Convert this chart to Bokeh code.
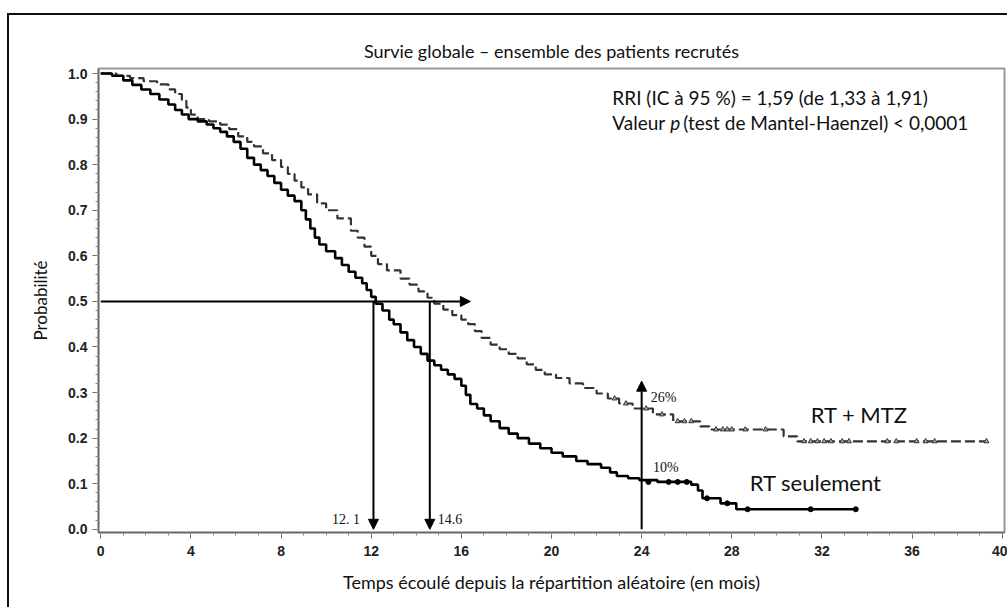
from bokeh.plotting import figure
from bokeh.models import (Label, Arrow, NormalHead, FixedTicker, PrintfTickFormatter, Range1d)
from bokeh.embed import file_html
from bokeh.resources import INLINE

# ---------------- data ----------------
title_text = "Survie globale \u2013 ensemble des patients recrut\u00e9s"
x_label = "Temps \u00e9coul\u00e9 depuis la r\u00e9partition al\u00e9atoire (en mois)"
y_label = "Probabilit\u00e9"

x_ticks = [0, 4, 8, 12, 16, 20, 24, 28, 32, 36, 40]
x_minor = list(range(0, 41))
y_ticks = [0.0, 0.1, 0.2, 0.3, 0.4, 0.5, 0.6, 0.7, 0.8, 0.9, 1.0]
y_minor = [i / 50 for i in range(0, 51)]

# RT seulement (solid black)
rt_t = [0, 0.5, 1.0, 1.4, 1.8, 2.2, 2.6, 3.0, 3.3, 3.6, 3.9, 4.3, 4.7, 5.0, 5.3,
        5.6, 5.9, 6.2, 6.5, 6.8, 7.1, 7.4, 7.7, 8.0, 8.3, 8.6, 8.9, 9.1, 9.3,
        9.5, 9.7, 10.0, 10.4, 10.7, 11.0, 11.3, 11.6, 11.8, 12.0, 12.2, 12.5,
        12.8, 13.0, 13.3, 13.6, 13.9, 14.2, 14.5, 14.8, 15.1, 15.4, 15.7, 16.0,
        16.2, 16.4, 16.7, 17.0, 17.3, 17.7, 18.1, 18.5, 19.0, 19.5, 20.0, 20.5,
        21.1, 21.6, 22.2, 22.6, 22.9, 23.4, 23.9, 24.7, 26.2, 26.5, 26.7, 27.5,
        28.2, 33.5]
rt_s = [1.0, 0.995, 0.985, 0.975, 0.965, 0.955, 0.943, 0.932, 0.92, 0.91, 0.90,
        0.895, 0.888, 0.88, 0.872, 0.862, 0.85, 0.835, 0.815, 0.80, 0.788, 0.775,
        0.76, 0.745, 0.732, 0.72, 0.70, 0.68, 0.66, 0.64, 0.625, 0.61, 0.595,
        0.58, 0.565, 0.552, 0.54, 0.525, 0.51, 0.495, 0.48, 0.46, 0.45, 0.432,
        0.415, 0.40, 0.385, 0.37, 0.36, 0.35, 0.34, 0.33, 0.315, 0.295, 0.275,
        0.265, 0.25, 0.237, 0.222, 0.21, 0.20, 0.188, 0.178, 0.168, 0.16, 0.15,
        0.143, 0.135, 0.125, 0.117, 0.112, 0.108, 0.104, 0.098, 0.085, 0.068,
        0.057, 0.044, 0.044]
rt_cens_t = [24.3, 25.2, 25.6, 26.0, 26.9, 27.8, 28.7, 31.5, 33.5]
rt_cens_s = [0.104, 0.104, 0.104, 0.104, 0.068, 0.057, 0.044, 0.044, 0.044]

# RT + MTZ (dashed grey)
mtz_t = [0, 0.7, 1.3, 1.9, 2.5, 3.0, 3.3, 3.6, 3.8, 4.0, 4.3, 4.8, 5.3, 5.7, 6.1,
         6.5, 6.8, 7.2, 7.6, 8.0, 8.3, 8.6, 8.9, 9.2, 9.6, 10.0, 10.5, 11.1,
         11.4, 11.7, 12.0, 12.3, 12.7, 13.3, 13.7, 14.1, 14.5, 14.8, 15.2, 15.6,
         16.0, 16.3, 16.6, 16.9, 17.3, 17.7, 18.1, 18.5, 18.9, 19.3, 19.7, 20.2,
         20.8, 21.4, 22.0, 22.5, 23.0, 23.6, 24.5, 25.4, 26.6, 27.0, 30.3, 30.9,
         39.3]
mtz_s = [1.0, 0.995, 0.99, 0.983, 0.976, 0.965, 0.955, 0.94, 0.925, 0.91, 0.90,
         0.895, 0.888, 0.878, 0.862, 0.85, 0.84, 0.825, 0.81, 0.795, 0.78, 0.765,
         0.75, 0.735, 0.715, 0.70, 0.682, 0.655, 0.64, 0.62, 0.60, 0.582, 0.568,
         0.55, 0.537, 0.522, 0.508, 0.495, 0.482, 0.47, 0.46, 0.45, 0.435, 0.42,
         0.405, 0.395, 0.385, 0.375, 0.362, 0.35, 0.34, 0.332, 0.32, 0.31, 0.298,
         0.287, 0.276, 0.265, 0.252, 0.237, 0.226, 0.219, 0.204, 0.193, 0.193]
mtz_cens_t = [22.8, 23.3, 24.2, 24.9, 25.6, 25.9, 26.2, 27.3, 27.6, 27.8, 28.0,
              28.6, 29.5, 31.2, 31.5, 31.8, 32.1, 32.4, 32.9, 33.2, 34.9, 35.3,
              36.2, 36.6, 37.0, 39.3]
mtz_cens_s = [0.287, 0.276, 0.265, 0.252, 0.237, 0.237, 0.237, 0.219, 0.219, 0.219,
              0.219, 0.219, 0.219, 0.193, 0.193, 0.193, 0.193, 0.193, 0.193, 0.193,
              0.193, 0.193, 0.193, 0.193, 0.193, 0.193]

median_rt = 12.1
median_mtz = 14.6
median_level = 0.5
median_arrow_end = 16.4
t24 = 24
t24_arrow_top = 0.325
median_rt_label = "12. 1"
median_mtz_label = "14.6"
pct_mtz_label = "26%"
pct_rt_label = "10%"
stat_line1 = "RRI (IC \u00e0 95 %) = 1,59 (de 1,33 \u00e0 1,91)"
stat_line2a = "Valeur "
stat_line2b = "p"
stat_line2c = "(test de Mantel-Haenzel) < 0,0001"
series_mtz = "RT + MTZ"
series_rt = "RT seulement"

SANS = "Lato"
SERIF = "Liberation Serif"

p = figure(width=1000, height=594, output_backend="svg", toolbar_location=None,
           x_range=Range1d(-0.1, 40.1), y_range=Range1d(-0.007, 1.011),
           min_border_left=89, min_border_right=5, min_border_top=53,
           min_border_bottom=77, background_fill_color="white",
           border_fill_color="white", margin=(13, 0, 0, 7))
p.styles = {"border-top": "2px solid #111", "border-left": "2px solid #111"}

p.title.text = title_text
p.title.align = "center"
p.title.text_font = SANS
p.title.text_font_size = "18px"
p.title.text_font_style = "normal"
p.title.text_color = "#111"
p.title.standoff = 13

p.grid.visible = False
p.outline_line_color = "#999"
p.outline_line_width = 2

p.xaxis.ticker = FixedTicker(ticks=x_ticks, minor_ticks=x_minor)
p.yaxis.ticker = FixedTicker(ticks=y_ticks, minor_ticks=y_minor)
p.yaxis.formatter = PrintfTickFormatter(format="%.1f")
for ax in (p.xaxis, p.yaxis):
    ax.axis_line_color = "#666"
    ax.axis_line_width = 1.5
    ax.major_tick_line_color = "#666"
    ax.minor_tick_line_color = "#888"
    ax.major_tick_out = 6
    ax.major_tick_in = 0
    ax.minor_tick_out = 3
    ax.minor_tick_in = 0
    ax.major_label_text_font = "Liberation Sans"
    ax.major_label_text_font_style = "bold"
    ax.major_label_text_font_size = "14px"
    ax.major_label_text_color = "#222"
    ax.axis_label_text_font = SANS
    ax.axis_label_text_font_style = "normal"
    ax.axis_label_text_color = "#111"
p.xaxis.axis_label = x_label
p.xaxis.axis_label_text_font_size = "18px"
p.xaxis.axis_label_standoff = 12
p.xaxis.major_label_standoff = 7
p.yaxis.axis_label = y_label
p.yaxis.axis_label_text_font_size = "17px"
p.yaxis.axis_label_standoff = 14
p.yaxis.major_label_standoff = 5

# curves
p.step(mtz_t, mtz_s, mode="after", line_color="#333", line_width=2.2, line_dash="10 4")
p.scatter(mtz_cens_t, mtz_cens_s, marker="triangle", size=5, line_color="#333",
          fill_color="#aaa", line_width=1)
p.step(rt_t, rt_s, mode="after", line_color="black", line_width=2.6)
p.scatter(rt_cens_t, rt_cens_s, marker="circle", size=5, line_color="black",
          fill_color="black")

# arrows
def arrow(x0, y0, x1, y1):
    p.add_layout(Arrow(end=NormalHead(size=10, fill_color="black", line_color="black"),
                       x_start=x0, y_start=y0, x_end=x1, y_end=y1,
                       line_color="black", line_width=2))

arrow(0, median_level, median_arrow_end, median_level)
arrow(median_rt, median_level, median_rt, 0)
arrow(median_mtz, median_level, median_mtz, 0)
arrow(t24, 0, t24, t24_arrow_top)

def lab(x, y, text, font=SANS, size="19px", align="left", style="normal", xo=0):
    p.add_layout(Label(x=x, y=y, text=text, text_font=font, text_font_size=size,
                       text_align=align, text_baseline="middle", text_font_style=style,
                       text_color="#111", x_offset=xo))

lab(22.7, 0.947, stat_line1)
lab(22.7, 0.892, stat_line2a)
lab(22.7, 0.892, stat_line2b, style="italic", xo=58)
lab(22.7, 0.892, stat_line2c, xo=71)
lab(31.5, 0.252, series_mtz, size="22px")
lab(28.8, 0.103, series_rt, size="22px")
lab(24.4, 0.29, pct_mtz_label, font=SERIF, size="14px")
lab(24.5, 0.136, pct_rt_label, font=SERIF, size="14px")
lab(11.5, 0.022, median_rt_label, font=SERIF, size="14px", align="right")
lab(14.95, 0.022, median_mtz_label, font=SERIF, size="14px")

open("out.html", "w").write(file_html(p, INLINE))
